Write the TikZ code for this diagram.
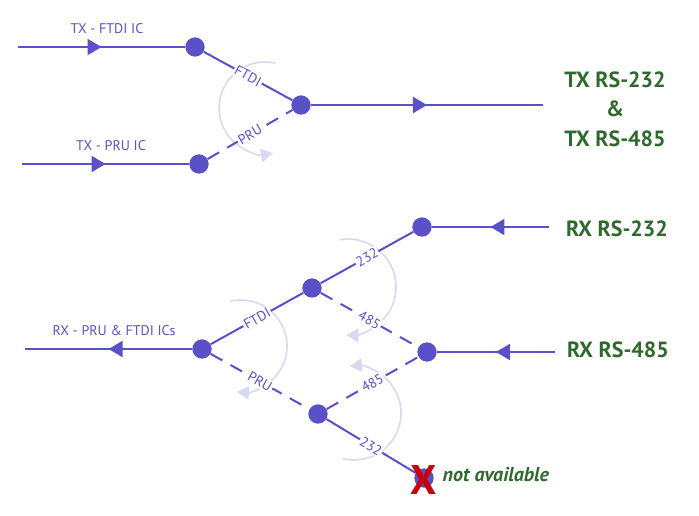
\documentclass[tikz,border=0pt]{standalone}
\usepackage{fontspec}
\setmainfont{PT Sans}
\usetikzlibrary{arrows.meta,decorations.markings}

\definecolor{wire}{HTML}{5A50C8}
\definecolor{swing}{HTML}{D8D8F0}
\definecolor{port}{HTML}{2E6A2E}
\definecolor{nogo}{HTML}{C8000A}

\tikzset{
  dot/.style={circle,fill=wire,minimum size=14.5pt,inner sep=0pt},
  wire/.style={draw=wire,line width=1.5pt},
  link/.style={wire,dash pattern=on 10pt off 7pt},
  flow/.style={wire,postaction={decorate},
    decoration={markings,mark=at position .5 with {\arrow[wire]{Triangle[length=10.5pt,width=12pt]}}}},
  tag/.style={text=wire,font=\fontsize{10.5}{12}\selectfont,fill=white,inner sep=1pt,sloped,pos=.5},
  swingarc/.style={draw=swing,line width=1.2pt,-{Triangle[length=9pt,width=10pt]}},
  portname/.style={text=port,font=\bfseries\fontsize{16.5}{22}\selectfont,align=center},
  caption/.style={text=wire,font=\fontsize{10.5}{12}\selectfont}
}

\begin{document}
\begin{tikzpicture}[x=0.75pt,y=-0.75pt]
    \useasboundingbox (0,0) rectangle (699,515);
    % transmit side
    \coordinate (ftdiin) at (18,47);
    \coordinate (pruin) at (22,164);
    \coordinate (txout) at (543,105);
    \node[dot] (txftdi) at (195,47) {};
    \node[dot] (txpru) at (199,164) {};
    \node[dot] (txjoin) at (301,105) {};
    \draw[swingarc] (265,108) ++(-77:46) arc [start angle=-77, end angle=-280, radius=46];
    \draw[flow] (ftdiin) -- (txftdi);
    \draw[flow] (pruin) -- (txpru);
    \draw[flow] (txjoin) -- (txout);
    \draw[wire] (txftdi) -- node[tag] {FTDI} (txjoin);
    \draw[link] (txpru) -- node[tag] {PRU} (txjoin);
    \node[caption] at (107,29) {TX - FTDI IC};
    \node[caption] at (111,146) {TX - PRU IC};
    \node[portname] at (615,109) {TX RS-232\\\&\\TX RS-485};

    % receive side
    \coordinate (rxout) at (25,349);
    \coordinate (in232) at (549,227);
    \coordinate (in485) at (555,352);
    \node[dot] (rx232) at (422,227) {};
    \node[dot] (rx485) at (427,352) {};
    \node[dot] (rxftdi) at (312,288) {};
    \node[dot] (rxpru) at (318,414) {};
    \node[dot] (rxjoin) at (202,349) {};
    \node[dot] (rxnone) at (424,478) {};
    \draw[swingarc] (348,287) ++(-100:48) arc [start angle=-100, end angle=92, radius=48];
    \draw[swingarc] (241,346) ++(-104:46) arc [start angle=-104, end angle=95, radius=46];
    \draw[swingarc] (354,413) ++(104:47) arc [start angle=104, end angle=-95, radius=47];
    \draw[flow] (in232) -- (rx232);
    \draw[flow] (in485) -- (rx485);
    \draw[flow] (rxjoin) -- (rxout);
    \draw[wire] (rxftdi) -- node[tag] {232} (rx232);
    \draw[link] (rxftdi) -- node[tag] {485} (rx485);
    \draw[link] (rxpru) -- node[tag] {485} (rx485);
    \draw[wire] (rxpru) -- node[tag] {232} (rxnone);
    \draw[wire] (rxjoin) -- node[tag] {FTDI} (rxftdi);
    \draw[link] (rxjoin) -- node[tag] {PRU} (rxpru);
    \node[caption] at (114,331) {RX - PRU \& FTDI ICs};
    \node[portname] at (617,229) {RX RS-232};
    \node[portname] at (618,350) {RX RS-485};
    \node[text=nogo,font=\bfseries\fontsize{31}{31}\selectfont] (cross) at (424,480) {X};
    \node[text=port,font=\bfseries\itshape\fontsize{15}{18}\selectfont,anchor=west] (nonote) at (438,475) {not available};
\end{tikzpicture}
\end{document}
